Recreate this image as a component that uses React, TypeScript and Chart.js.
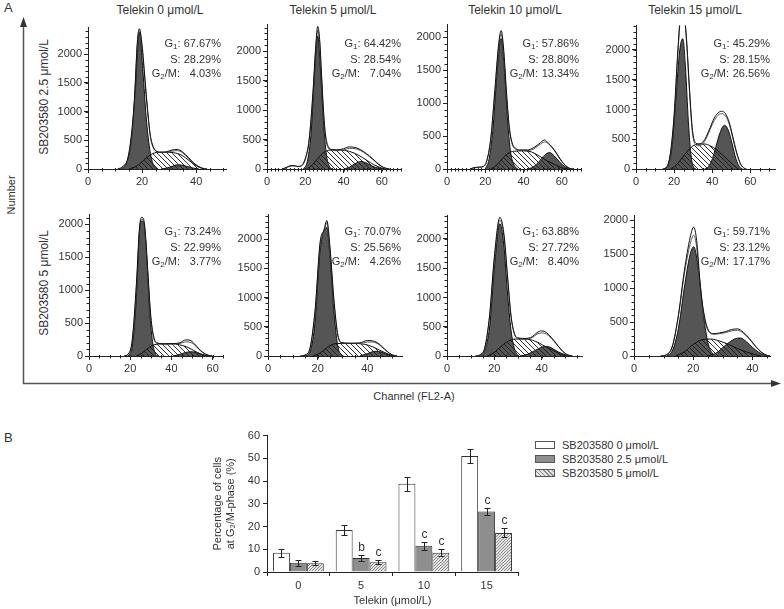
import React, { useEffect, useRef } from 'react';
import { Chart, registerables } from 'chart.js';

Chart.register(...registerables);

type P = [number, number][];

const FONT = "'Liberation Sans', Arial, sans-serif";

// ---------------- Panel A: DNA histograms (channel FL2-A, cell number) ----------------
// Row 1: SB203580 2.5 μmol/L
const R1C1_DATA: P = [[11,0],[13,50],[15,250],[17,1100],[18.3,2250],[19,2440],[20,2150],[21,1600],[22,1050],[23,600],[24,400],[25,320],[27,295],[29,300],[31,330],[33,340],[35,295],[37,205],[39,110],[41,40],[43,5],[44,0]];
const R1C1_FIT: P = [[11,0],[13,40],[15,230],[17,1050],[18.3,2200],[19,2400],[20,2100],[21,1550],[22,1000],[23,570],[24,380],[25,310],[27,285],[29,290],[31,310],[33,320],[35,280],[37,190],[39,100],[41,35],[43,5],[44,0]];
const R1C1_G1: P = [[12,0],[14,80],[16,500],[17.5,1400],[19,2380],[20.3,1700],[21.5,900],[22.8,350],[24,90],[25.5,0]];
const R1C1_S: P = [[15,0],[18,50],[21,170],[24,270],[27,290],[30,290],[33,270],[35,230],[37,160],[39,90],[41,30],[43,0]];
const R1C1_G2: P = [[27,0],[29,15],[31,45],[33,72],[35,65],[37,40],[39,15],[41,0]];

const R1C2_DATA: P = [[8,0],[10,25],[12,55],[14,60],[16,45],[18,60],[20,180],[22,500],[24,1300],[25.5,2100],[26.5,2420],[27.5,2200],[28.5,1600],[29.5,1000],[30.5,600],[32,380],[34,330],[37,325],[40,345],[43,375],[46,365],[49,325],[52,260],[55,180],[58,90],[61,25],[64,0]];
const R1C2_FIT: P = [[8,0],[10,20],[12,45],[14,50],[16,40],[18,50],[20,160],[22,470],[24,1250],[25.5,2050],[26.5,2350],[27.5,2150],[28.5,1550],[29.5,950],[30.5,560],[32,360],[34,320],[37,310],[40,325],[43,350],[46,345],[49,310],[52,250],[55,170],[58,85],[61,20],[64,0]];
const R1C2_G1: P = [[19,0],[21,120],[23,600],[25,1700],[26.5,2260],[28,1650],[29.5,800],[31,250],[32.5,50],[34,0]];
const R1C2_S: P = [[21,0],[24,80],[27,200],[30,290],[33,320],[38,320],[43,300],[48,230],[52,150],[56,70],[60,15],[62,0]];
const R1C2_G2: P = [[40,0],[43,30],[46,90],[49,128],[52,100],[55,50],[58,15],[61,0]];

const R1C3_DATA: P = [[12,0],[14,20],[17,30],[19,40],[21,150],[23,500],[25,1200],[27,1900],[28.3,2100],[29.5,1850],[31,1200],[32.5,650],[34,400],[36,310],[38,290],[42,290],[45,320],[48,380],[51,440],[53,390],[55,330],[57,250],[59,160],[61,80],[64,10],[66,0]];
const R1C3_FIT: P = [[12,0],[14,15],[17,25],[19,35],[21,140],[23,480],[25,1150],[27,1850],[28.3,2050],[29.5,1800],[31,1150],[32.5,620],[34,380],[36,295],[38,280],[42,280],[45,300],[48,360],[51,410],[53,380],[55,320],[57,240],[59,150],[61,75],[64,10],[66,0]];
const R1C3_G1: P = [[20,0],[22,150],[24,600],[26,1400],[28.2,1980],[30,1500],[31.5,800],[33,300],[35,60],[37,0]];
const R1C3_S: P = [[23,0],[26,60],[29,160],[32,240],[35,270],[40,275],[44,260],[48,200],[52,130],[56,70],[60,20],[63,0]];
const R1C3_G2: P = [[42,0],[45,30],[48,110],[51,210],[53.5,250],[56,200],[59,100],[62,30],[65,0]];

const R1C4_DATA: P = [[14,0],[16,30],[18,250],[20,900],[22,2000],[23.5,2600],[25,2650],[26.5,2200],[28,1400],[29.5,700],[31,450],[33,420],[35,450],[37,550],[39,700],[41,850],[43,940],[45,970],[47,930],[49,780],[51,520],[53,260],[55,80],[57,10],[58,0]];
const R1C4_FIT: P = [[14,0],[16,25],[18,230],[20,860],[22,1950],[23.5,2550],[25,2600],[26.5,2150],[28,1350],[29.5,650],[31,420],[33,390],[35,420],[37,520],[39,670],[41,810],[43,900],[45,930],[47,890],[49,750],[51,500],[53,250],[55,75],[57,10],[58,0]];
const R1C4_G1: P = [[15,0],[17,80],[19,400],[21,1200],[23,2000],[24.6,2190],[26,1700],[27.5,800],[29,200],[30.5,20],[31.5,0]];
const R1C4_S: P = [[18,0],[21,60],[24,180],[27,300],[30,390],[33,420],[36,420],[39,390],[42,330],[45,250],[48,160],[51,70],[53,15],[54,0]];
const R1C4_G2: P = [[36,0],[38,40],[40,160],[42,380],[44,600],[46.5,735],[48.5,650],[50.5,420],[52.5,170],[54.5,30],[56,0]];

// Row 2: SB203580 5 μmol/L
const R2C1_DATA: P = [[17,0],[19,30],[21,250],[23,1100],[24.5,1950],[25.5,2110],[26.5,2080],[27.5,1800],[28.5,1300],[30,600],[31.5,280],[33,200],[37,185],[41,190],[44,200],[47,245],[49,240],[51,190],[53,120],[55,60],[58,10],[60,0]];
const R2C1_FIT: P = [[17,0],[19,25],[21,230],[23,1050],[24.5,1900],[25.5,2080],[26.5,2040],[27.5,1750],[28.5,1250],[30,560],[31.5,260],[33,195],[37,180],[41,185],[44,190],[47,215],[49,210],[51,175],[53,110],[55,55],[58,10],[60,0]];
const R2C1_G1: P = [[19,0],[21,150],[23,900],[24.5,1900],[25.5,2050],[26.5,2040],[28,1500],[29.5,650],[31,180],[32.5,20],[33.5,0]];
const R2C1_S: P = [[23,0],[26,50],[29,130],[32,175],[36,185],[40,185],[44,170],[48,130],[51,80],[54,35],[57,5],[58,0]];
const R2C1_G2: P = [[41,0],[44,25],[47,55],[49.5,65],[52,50],[55,20],[58,0]];

const R2C2_DATA: P = [[13,0],[15,20],[17,150],[19,800],[21,1950],[22.5,2150],[23.7,2320],[25,1850],[26.5,1000],[28,400],[29.5,230],[33,220],[37,225],[40,265],[42,260],[44,230],[46,160],[48,80],[50,20],[52,0]];
const R2C2_FIT: P = [[13,0],[15,15],[17,140],[19,760],[21,1900],[22.5,2100],[23.7,2280],[25,1800],[26.5,950],[28,380],[29.5,225],[33,215],[37,215],[40,240],[42,240],[44,215],[46,150],[48,75],[50,18],[52,0]];
const R2C2_G1: P = [[15,0],[17,80],[19,600],[21,1800],[23.7,2200],[25,1700],[26.5,800],[28,200],[29.5,20],[30.5,0]];
const R2C2_S: P = [[18,0],[21,50],[24,150],[27,210],[31,215],[35,215],[39,200],[42,160],[45,100],[48,40],[50,10],[51,0]];
const R2C2_G2: P = [[37,0],[40,40],[43,80],[45,75],[47,45],[49,15],[51,0]];

const R2C3_DATA: P = [[12,0],[14,20],[16,150],[18,700],[20,1700],[22.3,2370],[24,2100],[25.5,1400],[27,700],[28.5,380],[30,310],[33,300],[36,330],[38,400],[40,430],[42,400],[44,320],[46,220],[48,120],[50,40],[52,5],[53,0]];
const R2C3_FIT: P = [[12,0],[14,15],[16,140],[18,680],[20,1650],[22.3,2320],[24,2050],[25.5,1350],[27,680],[28.5,370],[30,300],[33,290],[36,315],[38,375],[40,395],[42,375],[44,305],[46,210],[48,115],[50,38],[52,5],[53,0]];
const R2C3_G1: P = [[14,0],[16,100],[18,500],[20,1500],[22.3,2260],[24,1900],[25.5,1100],[27,450],[28.5,120],[30,0]];
const R2C3_S: P = [[17,0],[20,60],[23,170],[26,260],[29,290],[33,290],[36,270],[39,220],[42,150],[45,90],[48,30],[50,0]];
const R2C3_G2: P = [[31,0],[34,30],[37,90],[40,150],[42,165],[44,140],[47,70],[50,20],[52,0]];

const R2C4_DATA: P = [[9,0],[11,20],[13,150],[15,600],[17,1250],[19,1750],[20.2,1900],[21.2,1700],[22.5,1000],[24,550],[25.5,360],[27,330],[29,340],[31,360],[33,390],[35,400],[37,350],[39,260],[41,150],[43,60],[45,10],[46,0]];
const R2C4_FIT: P = [[9,0],[11,18],[13,140],[15,580],[17,1200],[19,1650],[20.2,1780],[21.2,1600],[22.5,950],[24,520],[25.5,345],[27,320],[29,330],[31,345],[33,370],[35,380],[37,335],[39,250],[41,145],[43,55],[45,8],[46,0]];
const R2C4_G1: P = [[11,0],[13,80],[15,400],[17,1000],[19,1500],[20.2,1610],[22,1200],[23.5,600],[25,200],[26.5,40],[28,0]];
const R2C4_S: P = [[14,0],[17,60],[20,170],[23,240],[26,250],[29,220],[32,170],[35,110],[38,60],[41,20],[43,0]];
const R2C4_G2: P = [[25,0],[28,50],[31,160],[34,250],[36,265],[38,210],[40,130],[42,60],[44,15],[46,0]];

const COL_TITLES = ['Telekin 0 μmol/L', 'Telekin 5 μmol/L', 'Telekin 10 μmol/L', 'Telekin 15 μmol/L'];
const ROW_TITLES = ['SB203580 2.5 μmol/L', 'SB203580 5 μmol/L'];
const G1_PCT = ['67.67', '64.42', '57.86', '45.29', '73.24', '70.07', '63.88', '59.71'];
const S_PCT = ['28.29', '28.54', '28.80', '28.15', '22.99', '25.56', '27.72', '23.12'];
const G2M_PCT = ['4.03', '7.04', '13.34', '26.56', '3.77', '4.26', '8.40', '17.17'];
const X_MAX = [51, 70, 70, 73, 65, 54, 57, 46];
const Y_MAX = [2460, 2450, 2190, 2410, 2150, 2420, 2400, 2070];
const X_TICKS = [0, 20, 40, 60];
const Y_TICKS = [0, 500, 1000, 1500, 2000];

const HISTS = [
  { data: R1C1_DATA, fit: R1C1_FIT, g1: R1C1_G1, s: R1C1_S, g2: R1C1_G2 },
  { data: R1C2_DATA, fit: R1C2_FIT, g1: R1C2_G1, s: R1C2_S, g2: R1C2_G2 },
  { data: R1C3_DATA, fit: R1C3_FIT, g1: R1C3_G1, s: R1C3_S, g2: R1C3_G2 },
  { data: R1C4_DATA, fit: R1C4_FIT, g1: R1C4_G1, s: R1C4_S, g2: R1C4_G2 },
  { data: R2C1_DATA, fit: R2C1_FIT, g1: R2C1_G1, s: R2C1_S, g2: R2C1_G2 },
  { data: R2C2_DATA, fit: R2C2_FIT, g1: R2C2_G1, s: R2C2_S, g2: R2C2_G2 },
  { data: R2C3_DATA, fit: R2C3_FIT, g1: R2C3_G1, s: R2C3_S, g2: R2C3_G2 },
  { data: R2C4_DATA, fit: R2C4_FIT, g1: R2C4_G1, s: R2C4_S, g2: R2C4_G2 },
];

// ---------------- Panel B: G2/M percentage ----------------
const TELEKIN = ['0', '5', '10', '15'];
const SERIES = ['SB203580 0 μmol/L', 'SB203580 2.5 μmol/L', 'SB203580 5 μmol/L'];
const G2M_SB0 = [8.5, 18.5, 38.8, 51.0];
const G2M_SB25 = [4.1, 6.2, 11.6, 26.6];
const G2M_SB5 = [3.9, 4.3, 8.5, 17.2];
const ERR_SB0 = [1.7, 2.3, 3.1, 3.0];
const ERR_SB25 = [1.3, 1.2, 1.8, 1.5];
const ERR_SB5 = [1.0, 1.0, 1.6, 2.0];
const SIG_SB0 = ['', '', '', ''];
const SIG_SB25 = ['', 'b', 'c', 'c'];
const SIG_SB5 = ['', 'c', 'c', 'c'];

// ---------------- layout (page pixels) ----------------
const LAYOUT = [
  { X0: 88, X1: 226, Y0: 169, Y1: 25, xMinor: 5 },
  { X0: 267, X1: 401, Y0: 169, Y1: 22, xMinor: 2 },
  { X0: 447, X1: 581, Y0: 169, Y1: 22, xMinor: 2 },
  { X0: 636, X1: 775, Y0: 169, Y1: 23, xMinor: 5 },
  { X0: 89, X1: 223, Y0: 356, Y1: 212, xMinor: 5 },
  { X0: 268, X1: 402, Y0: 356, Y1: 212, xMinor: 5 },
  { X0: 447, X1: 582, Y0: 356, Y1: 213, xMinor: 5 },
  { X0: 634, X1: 770, Y0: 356, Y1: 213, xMinor: 5 },
];
const TITLE_X = [160, 333, 515, 695];
const STAT_RIGHT = [221, 401, 579, 770];
const STAT_TOP = [36, 224];

const YW = 40, XH = 22, PT = 6, PR = 6;

function makeHatch(ctx: CanvasRenderingContext2D, size: number, color: string, bg: string | null, back: boolean, lw: number) {
  const t = document.createElement('canvas');
  t.width = size; t.height = size;
  const g = t.getContext('2d')!;
  if (bg) { g.fillStyle = bg; g.fillRect(0, 0, size, size); }
  g.strokeStyle = color; g.lineWidth = lw; g.beginPath();
  if (back) {
    g.moveTo(-1, -1); g.lineTo(size + 1, size + 1);
    g.moveTo(-1, size - 1); g.lineTo(1, size + 1);
    g.moveTo(size - 1, -1); g.lineTo(size + 1, 1);
  } else {
    g.moveTo(-1, size + 1); g.lineTo(size + 1, -1);
    g.moveTo(-1, 1); g.lineTo(1, -1);
    g.moveTo(size - 1, size + 1); g.lineTo(size + 1, size - 1);
  }
  g.stroke();
  return ctx.createPattern(t, 'repeat')!;
}

function minorTicks(xStep: number, yStep: number) {
  return {
    id: 'minorTicks',
    afterDraw(chart: any) {
      const { ctx, chartArea: a, scales } = chart;
      ctx.save();
      ctx.strokeStyle = '#222'; ctx.lineWidth = 1; ctx.beginPath();
      const ys = scales.y, xs = scales.x;
      for (let v = 0; v <= ys.max + 1e-6; v += yStep) {
        const py = Math.round(ys.getPixelForValue(v)) + 0.5;
        ctx.moveTo(a.left - 2.5, py); ctx.lineTo(a.left + 1, py);
      }
      for (let v = 0; v <= xs.max + 1e-6; v += xStep) {
        const px = Math.round(xs.getPixelForValue(v)) + 0.5;
        ctx.moveTo(px, a.bottom - 1); ctx.lineTo(px, a.bottom + 2.5);
      }
      ctx.stroke();
      ctx.restore();
    },
  };
}

const toXY = (a: P) => a.map(([x, y]) => ({ x, y }));

function Histo({ i }: { i: number }) {
  const ref = useRef<HTMLCanvasElement>(null);
  const L = LAYOUT[i];
  const W = L.X1 - L.X0 + YW + PR;
  const H = L.Y0 - L.Y1 + PT + XH;
  useEffect(() => {
    const c = ref.current!;
    const ctx = c.getContext('2d')!;
    const hatch = makeHatch(ctx, 5, '#1a1a1a', null, true, 0.9);
    const h = HISTS[i];
    const ln = (d: P, extra: any) => ({
      data: toXY(d), pointRadius: 0, borderWidth: 1, cubicInterpolationMode: 'monotone', ...extra,
    });
    const tickFont = { family: FONT, size: 11 };
    const chart = new Chart(c, {
      type: 'line',
      data: {
        datasets: [
          ln(h.data, { borderColor: '#111', fill: false }),
          ln(h.fit, { borderColor: '#555', fill: false }),
          ln(h.s, { borderColor: '#111', backgroundColor: hatch, fill: 'origin' }),
          ln(h.g2, { borderColor: '#111', backgroundColor: '#555', fill: 'origin' }),
          ln(h.g1, { borderColor: '#111', backgroundColor: '#555', fill: 'origin' }),
        ] as any,
      },
      options: {
        responsive: false,
        animation: false,
        events: [],
        layout: { padding: { top: PT, right: PR, left: 0, bottom: 0 } },
        plugins: { legend: { display: false }, tooltip: { enabled: false } },
        scales: {
          x: {
            type: 'linear', min: 0, max: X_MAX[i],
            afterFit: (s: any) => { s.height = XH; },
            afterBuildTicks: (s: any) => { s.ticks = X_TICKS.filter((v) => v <= s.max).map((v) => ({ value: v })); },
            ticks: { font: tickFont, color: '#333', padding: 2, maxRotation: 0, autoSkip: false, callback: (v: any) => String(v) },
            grid: { drawOnChartArea: false, drawTicks: true, tickLength: 4, color: '#222' },
            border: { display: true, color: '#222', width: 1 },
          },
          y: {
            min: 0, max: Y_MAX[i],
            afterFit: (s: any) => { s.width = YW; },
            afterBuildTicks: (s: any) => { s.ticks = Y_TICKS.filter((v) => v <= s.max).map((v) => ({ value: v })); },
            ticks: { font: tickFont, color: '#333', padding: 2, autoSkip: false, callback: (v: any) => String(v) },
            grid: { drawOnChartArea: false, drawTicks: true, tickLength: 4, color: '#222' },
            border: { display: true, color: '#222', width: 1 },
          },
        },
      } as any,
      plugins: [minorTicks(L.xMinor, 100)],
    });
    return () => chart.destroy();
  }, [i]);
  return (
    <canvas ref={ref} width={W} height={H}
      style={{ position: 'absolute', left: L.X0 - YW, top: L.Y1 - PT, width: W, height: H }} />
  );
}

const BX0 = 267, BX1 = 518, BY0 = 572, BY1 = 434;
const BYW = 62, BPT = 8, BPR = 6;
const BTOP = BY1 - BPT, BH = 609 - BTOP, BXH = BH - (BY0 - BTOP);
const BW = BX1 - BX0 + BYW + BPR;

function Bars() {
  const ref = useRef<HTMLCanvasElement>(null);
  useEffect(() => {
    const c = ref.current!;
    const ctx = c.getContext('2d')!;
    const fine = makeHatch(ctx, 3, '#8c8c8c', '#e4e4e4', false, 1);
    const errs = [ERR_SB0, ERR_SB25, ERR_SB5];
    const sigs = [SIG_SB0, SIG_SB25, SIG_SB5];
    const errorBars = {
      id: 'errorBars',
      afterDatasetsDraw(chart: any) {
        const g = chart.ctx; const ys = chart.scales.y;
        g.save();
        g.strokeStyle = '#222'; g.lineWidth = 1; g.fillStyle = '#333';
        g.font = `12px ${FONT}`; g.textAlign = 'center'; g.textBaseline = 'bottom';
        chart.data.datasets.forEach((ds: any, di: number) => {
          chart.getDatasetMeta(di).data.forEach((el: any, j: number) => {
            const v = ds.data[j]; const e = errs[di][j];
            const x = Math.round(el.x) + 0.5;
            const yt = Math.round(ys.getPixelForValue(v + e)) + 0.5;
            const yb = Math.round(ys.getPixelForValue(v - e)) + 0.5;
            g.beginPath();
            g.moveTo(x, yt); g.lineTo(x, yb);
            g.moveTo(x - 3, yt); g.lineTo(x + 3, yt);
            g.moveTo(x - 3, yb); g.lineTo(x + 3, yb);
            g.stroke();
            const s = sigs[di][j];
            if (s) g.fillText(s, x, yt - 2);
          });
        });
        g.restore();
      },
    };
    const common = { borderColor: '#333', borderWidth: 1, categoryPercentage: 0.81, barPercentage: 1 };
    const f11 = { family: FONT, size: 11 };
    const chart = new Chart(c, {
      type: 'bar',
      data: {
        labels: TELEKIN,
        datasets: [
          { label: SERIES[0], data: G2M_SB0, backgroundColor: '#ffffff', ...common },
          { label: SERIES[1], data: G2M_SB25, backgroundColor: '#8e8e8e', ...common },
          { label: SERIES[2], data: G2M_SB5, backgroundColor: fine, ...common },
        ] as any,
      },
      options: {
        responsive: false,
        animation: false,
        events: [],
        layout: { padding: { top: BPT, right: BPR, left: 0, bottom: 0 } },
        plugins: { legend: { display: false }, tooltip: { enabled: false } },
        scales: {
          x: {
            afterFit: (s: any) => { s.height = BXH; },
            ticks: { font: f11, color: '#333', padding: 3 },
            grid: { offset: true, drawOnChartArea: false, drawTicks: true, tickLength: 4, color: '#222' },
            border: { display: true, color: '#222', width: 1 },
            title: { display: true, text: 'Telekin (μmol/L)', font: f11, color: '#333', padding: { top: 0, bottom: 1 } },
          },
          y: {
            min: 0, max: 60,
            afterFit: (s: any) => { s.width = BYW; },
            ticks: { stepSize: 10, font: f11, color: '#333', padding: 3 },
            grid: { drawOnChartArea: false, drawTicks: true, tickLength: 4, color: '#222' },
            border: { display: true, color: '#222', width: 1 },
            title: { display: true, text: ['Percentage of cells', 'at G₂/M-phase (%)'], font: f11, color: '#333', padding: { top: 6, bottom: 0 } },
          },
        },
      } as any,
      plugins: [errorBars],
    });
    return () => chart.destroy();
  }, []);
  return (
    <canvas ref={ref} width={BW} height={BH}
      style={{ position: 'absolute', left: BX0 - BYW, top: BTOP, width: BW, height: BH }} />
  );
}

const Sub = ({ t }: { t: string }) => (
  <span style={{ fontSize: 8, position: 'relative', top: 2 }}>{t}</span>
);

function Stats({ i }: { i: number }) {
  const col = i % 4, row = Math.floor(i / 4);
  const right = STAT_RIGHT[col];
  return (
    <div style={{ position: 'absolute', left: right - 110, top: STAT_TOP[row], width: 110, textAlign: 'right', fontSize: 11, lineHeight: '14px', color: '#333', whiteSpace: 'nowrap' }}>
      <div>G<Sub t="1" />: {G1_PCT[i]}%</div>
      <div>S: {S_PCT[i]}%</div>
      <div>G<Sub t="2" />/M: <span style={{ display: 'inline-block', width: 38, textAlign: 'right' }}>{G2M_PCT[i]}%</span></div>
    </div>
  );
}

const abs = (extra: React.CSSProperties): React.CSSProperties => ({ position: 'absolute', whiteSpace: 'nowrap', ...extra });

export default function App() {
  const swatch = (bg: string): React.CSSProperties => ({ position: 'absolute', left: 0, top: -4, width: 18, height: 6, border: '1px solid #555', background: bg });
  const legendBg = ['#ffffff', '#8e8e8e', 'repeating-linear-gradient(45deg, #8c8c8c 0 1px, #e4e4e4 1px 3px)'];
  return (
    <div style={{ position: 'absolute', left: 0, top: 0, width: 784, height: 609, background: '#fff', fontFamily: FONT, color: '#333', overflow: 'hidden' }}>
      <svg width={784} height={609} style={{ position: 'absolute', left: 0, top: 0 }}>
        <line x1={23.5} y1={384} x2={23.5} y2={26} stroke="#555" strokeWidth={1.5} />
        <polygon points="23.5,17 20,27 27,27" fill="#333" />
        <line x1={23} y1={383.5} x2={771} y2={383.5} stroke="#555" strokeWidth={1.5} />
        <polygon points="781,383.5 771,380 771,387" fill="#333" />
      </svg>
      <div style={abs({ left: 4, top: 0, fontSize: 13 })}>A</div>
      <div style={abs({ left: 4, top: 430, fontSize: 13 })}>B</div>
      {COL_TITLES.map((t, k) => (
        <div key={t} style={abs({ left: TITLE_X[k], top: 10, fontSize: 12, transform: 'translate(-50%,-50%)' })}>{t}</div>
      ))}
      <div style={abs({ left: 44, top: 97, fontSize: 12, transform: 'translate(-50%,-50%) rotate(-90deg)' })}>{ROW_TITLES[0]}</div>
      <div style={abs({ left: 44, top: 283, fontSize: 12, transform: 'translate(-50%,-50%) rotate(-90deg)' })}>{ROW_TITLES[1]}</div>
      <div style={abs({ left: 11, top: 195, fontSize: 11, transform: 'translate(-50%,-50%) rotate(-90deg)' })}>Number</div>
      <div style={abs({ left: 414, top: 396, fontSize: 11, transform: 'translate(-50%,-50%)' })}>Channel (FL2-A)</div>
      {HISTS.map((_, k) => <Histo key={k} i={k} />)}
      {HISTS.map((_, k) => <Stats key={'s' + k} i={k} />)}
      <Bars />
      {SERIES.map((s, k) => (
        <div key={s} style={abs({ left: 535, top: 445 + k * 14, fontSize: 11 })}>
          <div style={swatch(legendBg[k])} />
          <div style={{ position: 'absolute', left: 27, top: -7, lineHeight: '14px' }}>{s}</div>
        </div>
      ))}
    </div>
  );
}
